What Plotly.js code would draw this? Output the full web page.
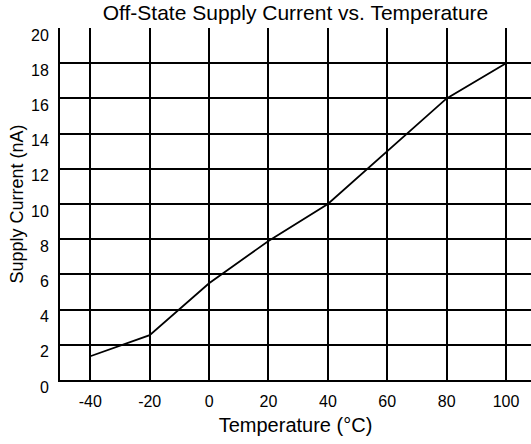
<!DOCTYPE html>
<html>
<head>
<meta charset="utf-8">
<script src="https://cdn.plot.ly/plotly-3.0.1.min.js"></script>
<style>html,body{margin:0;padding:0;overflow:hidden;background:#fff;}</style>
</head>
<body>
<div id="chart" style="width:531px;height:444px;"></div>
<script>
const temperature = [-40, -20, 0, 20, 40, 60, 80, 100];
const supplyCurrent = [1.35, 2.55, 5.5, 7.9, 10, 13, 16, 18];
const xTickVals = [-40, -20, 0, 20, 40, 60, 80, 100];
const yTickVals = [0, 2, 4, 6, 8, 10, 12, 14, 16, 18, 20];

const font = 'Liberation Sans, Arial, sans-serif';

Plotly.newPlot('chart', [{
  x: temperature,
  y: supplyCurrent,
  type: 'scatter',
  mode: 'lines',
  line: {color: '#000', width: 1.8},
  hoverinfo: 'skip'
}], {
  width: 531,
  height: 444,
  margin: {l: 60, r: 0, t: 28, b: 64},
  paper_bgcolor: '#fff',
  plot_bgcolor: '#fff',
  showlegend: false,
  title: {
    text: 'Off-State Supply Current vs. Temperature',
    font: {family: font, size: 21, color: '#000'},
    x: 0.5, xref: 'paper', xanchor: 'center',
    y: 0.972, yref: 'container', yanchor: 'middle'
  },
  xaxis: {
    range: [-50.2, 108.4],
    tickvals: xTickVals,
    ticktext: xTickVals.map(String),
    showgrid: true, gridcolor: '#000', gridwidth: 2,
    zeroline: false,
    showline: true, linecolor: '#000', linewidth: 2,
    ticks: '',
    ticklabelstandoff: 6,
    tickfont: {family: font, size: 16, color: '#000'},
    title: {text: 'Temperature (°C)', font: {family: font, size: 20, color: '#000'}, standoff: 9},
    fixedrange: true
  },
  yaxis: {
    range: [0, 20],
    tickvals: yTickVals,
    ticktext: yTickVals.map(String),
    showgrid: true, gridcolor: '#000', gridwidth: 2,
    zeroline: false,
    showline: true, linecolor: '#000', linewidth: 2,
    ticks: '',
    ticklabelshift: 7,
    ticklabelstandoff: 6,
    tickfont: {family: font, size: 16, color: '#000'},
    title: {text: 'Supply Current (nA)', font: {family: font, size: 18, color: '#000'}, standoff: 3},
    fixedrange: true
  }
}, {displayModeBar: false, staticPlot: true});
</script>
</body>
</html>
